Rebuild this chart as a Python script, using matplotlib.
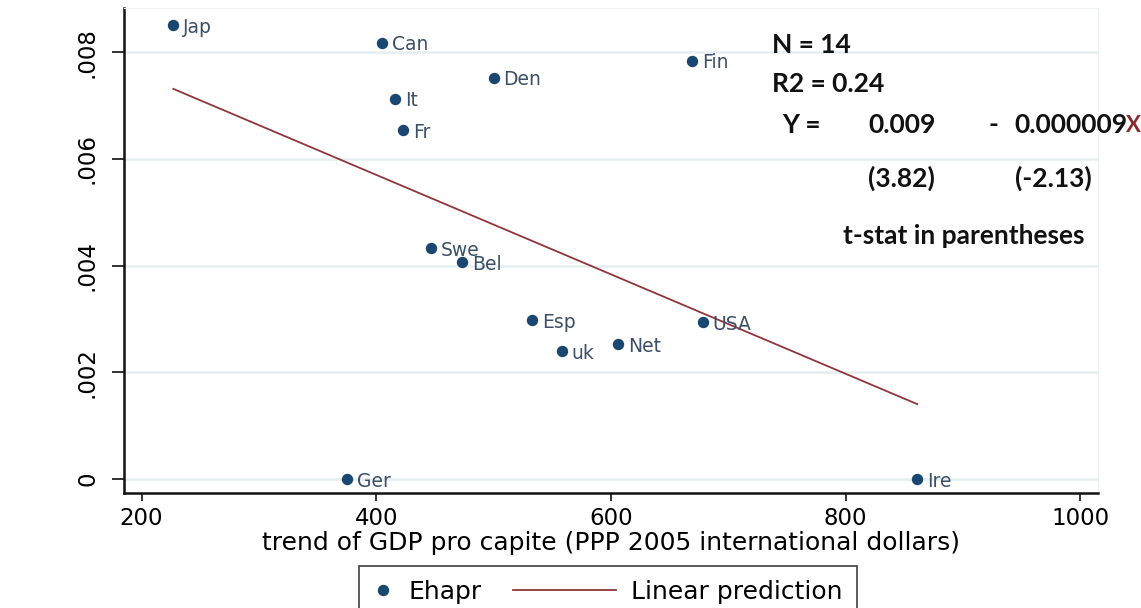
import numpy as np
import matplotlib.pyplot as plt
from matplotlib.lines import Line2D
from matplotlib.legend_handler import HandlerLine2D

# trend GDP per capita (x) and Ehapr (y) by country
countries = ["Jap", "Can", "Fin", "Den", "It", "Fr", "Swe", "Bel",
             "Esp", "uk", "Net", "USA", "Ger", "Ire"]
gdp = [227, 405, 669, 500, 416, 423, 447, 473, 533, 558, 606, 678, 375, 861]
ehapr = [0.00851, 0.00818, 0.00784, 0.00752, 0.00713, 0.00654, 0.00433,
         0.00407, 0.00298, 0.00240, 0.00253, 0.00294, 0.0, 0.0]

# fitted line as reported in the annotation
intercept = 0.00943
slope = -0.00000932

navy = "#1a476f"
maroon = "#90353b"
grid_col = "#e6eef0"
W, H = 1141, 608


class LongLineHandler(HandlerLine2D):
    """Line handle that reaches further left than the handle box."""
    def __init__(self, extra, **kw):
        super().__init__(**kw)
        self.extra = extra

    def create_artists(self, legend, orig_handle, xdescent, ydescent,
                       width, height, fontsize, trans):
        arts = super().create_artists(legend, orig_handle, xdescent, ydescent,
                                      width, height, fontsize, trans)
        for a in arts:
            xs = np.asarray(a.get_xdata(), dtype=float)
            a.set_xdata(np.linspace(xs.min() - self.extra, xs.max(), len(xs)))
        return arts


fig = plt.figure(figsize=(W / 100, H / 100), dpi=100)
ax = fig.add_axes([124 / W, 1 - 493 / H, (1098 - 124) / W, (493 - 8) / H])

x = np.array(gdp)
y = np.array(ehapr)
ax.plot(x, y, "o", color=navy, ms=7.2, zorder=3)
for name, xi, yi in zip(countries, x, y):
    ax.annotate(name, (xi, yi), xytext=(7, -1.5), textcoords="offset points",
                va="center", ha="left", fontsize=13.5, color="#3b4f66",
                family="DejaVu Sans")

xfit = np.array([x.min(), x.max()])
ax.plot(xfit, intercept + slope * xfit, color=maroon, lw=1.3, zorder=2)

ax.set_xlim(185, 1015)
ax.set_ylim(-0.00026, 0.00883)
ax.set_xticks([200, 400, 600, 800, 1000])
ax.set_yticks([0, 0.002, 0.004, 0.006, 0.008])
ax.set_yticklabels(["0", ".002", ".004", ".006", ".008"], rotation=90, va="center")
ax.tick_params(axis="both", labelsize=16.5, color="#222222", width=1.3)
ax.tick_params(axis="x", length=6, pad=4)
ax.tick_params(axis="y", length=9, pad=9)
for lab in ax.get_xticklabels() + ax.get_yticklabels():
    lab.set_family("DejaVu Sans")
ax.grid(axis="y", color=grid_col, lw=1.8)
ax.set_axisbelow(True)
for s in ["top", "right"]:
    ax.spines[s].set_color("#eef2f3")
for s in ["left", "bottom"]:
    ax.spines[s].set_linewidth(1.8)
    ax.spines[s].set_color("#111111")

ax.set_xlabel("trend of GDP pro capite (PPP 2005 international dollars)",
              fontsize=18, family="DejaVu Sans", labelpad=1)

# regression summary
tkw = dict(fontsize=19, fontweight="bold", family="Lato",
           color="#111111", va="center")
fig.text(772 / W, 1 - 45 / H, "N = 14", **tkw)
fig.text(772 / W, 1 - 84 / H, "R2 = 0.24", **tkw)
fig.text(782 / W, 1 - 125 / H, "Y =", **tkw)
fig.text(868 / W, 1 - 125 / H, "0.009", **tkw)
fig.text(988 / W, 1 - 125 / H, "-", **tkw)
fig.text(1014 / W, 1 - 125 / H, "0.000009", **tkw)
fig.text(1126 / W, 1 - 125 / H, "X", **dict(tkw, fontsize=16, color="#8a2a2a"))
fig.text(868 / W, 1 - 178 / H, "(3.82)", **tkw)
fig.text(1015 / W, 1 - 178 / H, "(-2.13)", **tkw)
fig.text(843 / W, 1 - 236 / H, "t-stat in parentheses", **tkw)

# legend: short handle for the dot, long line for the fit
fs = 18
dot = Line2D([], [], marker="o", ls="none", color=navy, ms=7.2)
fit = Line2D([], [], color=maroon, lw=1.3)
leg = fig.legend([dot, fit], ["Ehapr", "Linear prediction"], loc="center",
                 bbox_to_anchor=(608 / W, 1 - 592 / H), ncol=2,
                 frameon=True, fancybox=False, edgecolor="#222222",
                 prop={"family": "DejaVu Sans", "size": fs},
                 handlelength=0.8, handletextpad=0.6, columnspacing=4.6,
                 borderpad=0.55, borderaxespad=0,
                 handler_map={fit: LongLineHandler(extra=60)})
leg.get_frame().set_linewidth(1.3)

fig.savefig("out.png", dpi=100, facecolor="white")
